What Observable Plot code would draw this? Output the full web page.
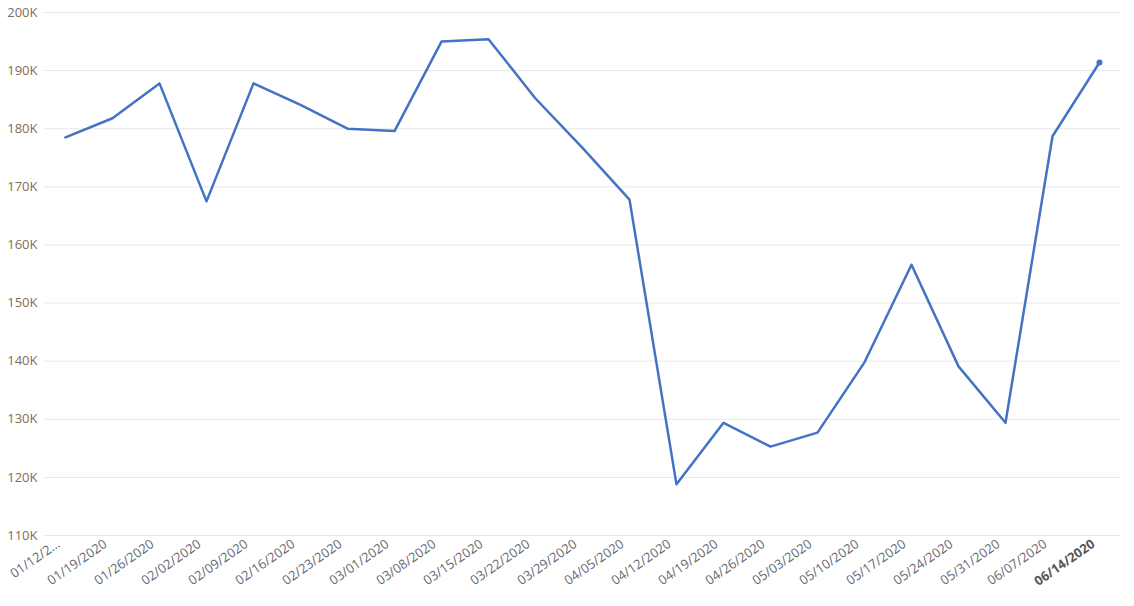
<!DOCTYPE html>
<html><head><meta charset="utf-8">
<script src="https://cdn.jsdelivr.net/npm/d3@7"></script>
<script src="https://cdn.jsdelivr.net/npm/@observablehq/plot@0.6"></script>
<style>
body{margin:0;background:#fff;font-family:"Open Sans",sans-serif;}
</style>
</head><body>
<div id="chart"></div>
<script>
const weeks = ["01/12/2020","01/19/2020","01/26/2020","02/02/2020","02/09/2020","02/16/2020","02/23/2020","03/01/2020","03/08/2020","03/15/2020","03/22/2020","03/29/2020","04/05/2020","04/12/2020","04/19/2020","04/26/2020","05/03/2020","05/10/2020","05/17/2020","05/24/2020","05/31/2020","06/07/2020","06/14/2020"];
const values = [178500,181800,187800,167500,187800,184100,180000,179600,195000,195400,185200,176700,167800,118800,129400,125300,127700,139800,156600,139100,129400,178700,191400];
const yTicks = [110000,120000,130000,140000,150000,160000,170000,180000,190000,200000];

const data = weeks.map((w,i)=>({week:w, value:values[i]}));
const last = data[data.length-1];
const fmtX = d => d === weeks[0] ? "01/12/2..." : d;

const chart = Plot.plot({
  width: 1134,
  height: 606,
  marginTop: 12,
  marginBottom: 71,
  marginLeft: 44,
  marginRight: 14,
  style: {fontFamily: "'Open Sans', sans-serif", fontSize: "13px", background: "#fff"},
  x: {type: "point", domain: weeks, padding: 0.35},
  y: {domain: [110000, 200000]},
  marks: [
    Plot.gridY(yTicks, {stroke: "#e8e8e8", strokeOpacity: 1, strokeWidth: 1}),
    Plot.axisY(yTicks, {tickSize: 0, tickPadding: 7, tickFormat: d => d/1000 + "K", fill: "#7d6d5d", label: null}),
    Plot.axisX(weeks.slice(0,-1), {tickSize: 0, tickPadding: 7, tickRotate: -35, dx: -7, tickFormat: fmtX, fill: "#666a72", label: null}),
    Plot.axisX([weeks[weeks.length-1]], {tickSize: 0, tickPadding: 7, tickRotate: -35, dx: -6, fill: "#555", fontWeight: "bold", label: null}),
    Plot.line(data, {x: "week", y: "value", stroke: "#4472C4", strokeWidth: 2.5}),
    Plot.dot([last], {x: "week", y: "value", fill: "#4472C4", r: 3})
  ]
});
document.getElementById("chart").appendChild(chart);
</script>
</body></html>
